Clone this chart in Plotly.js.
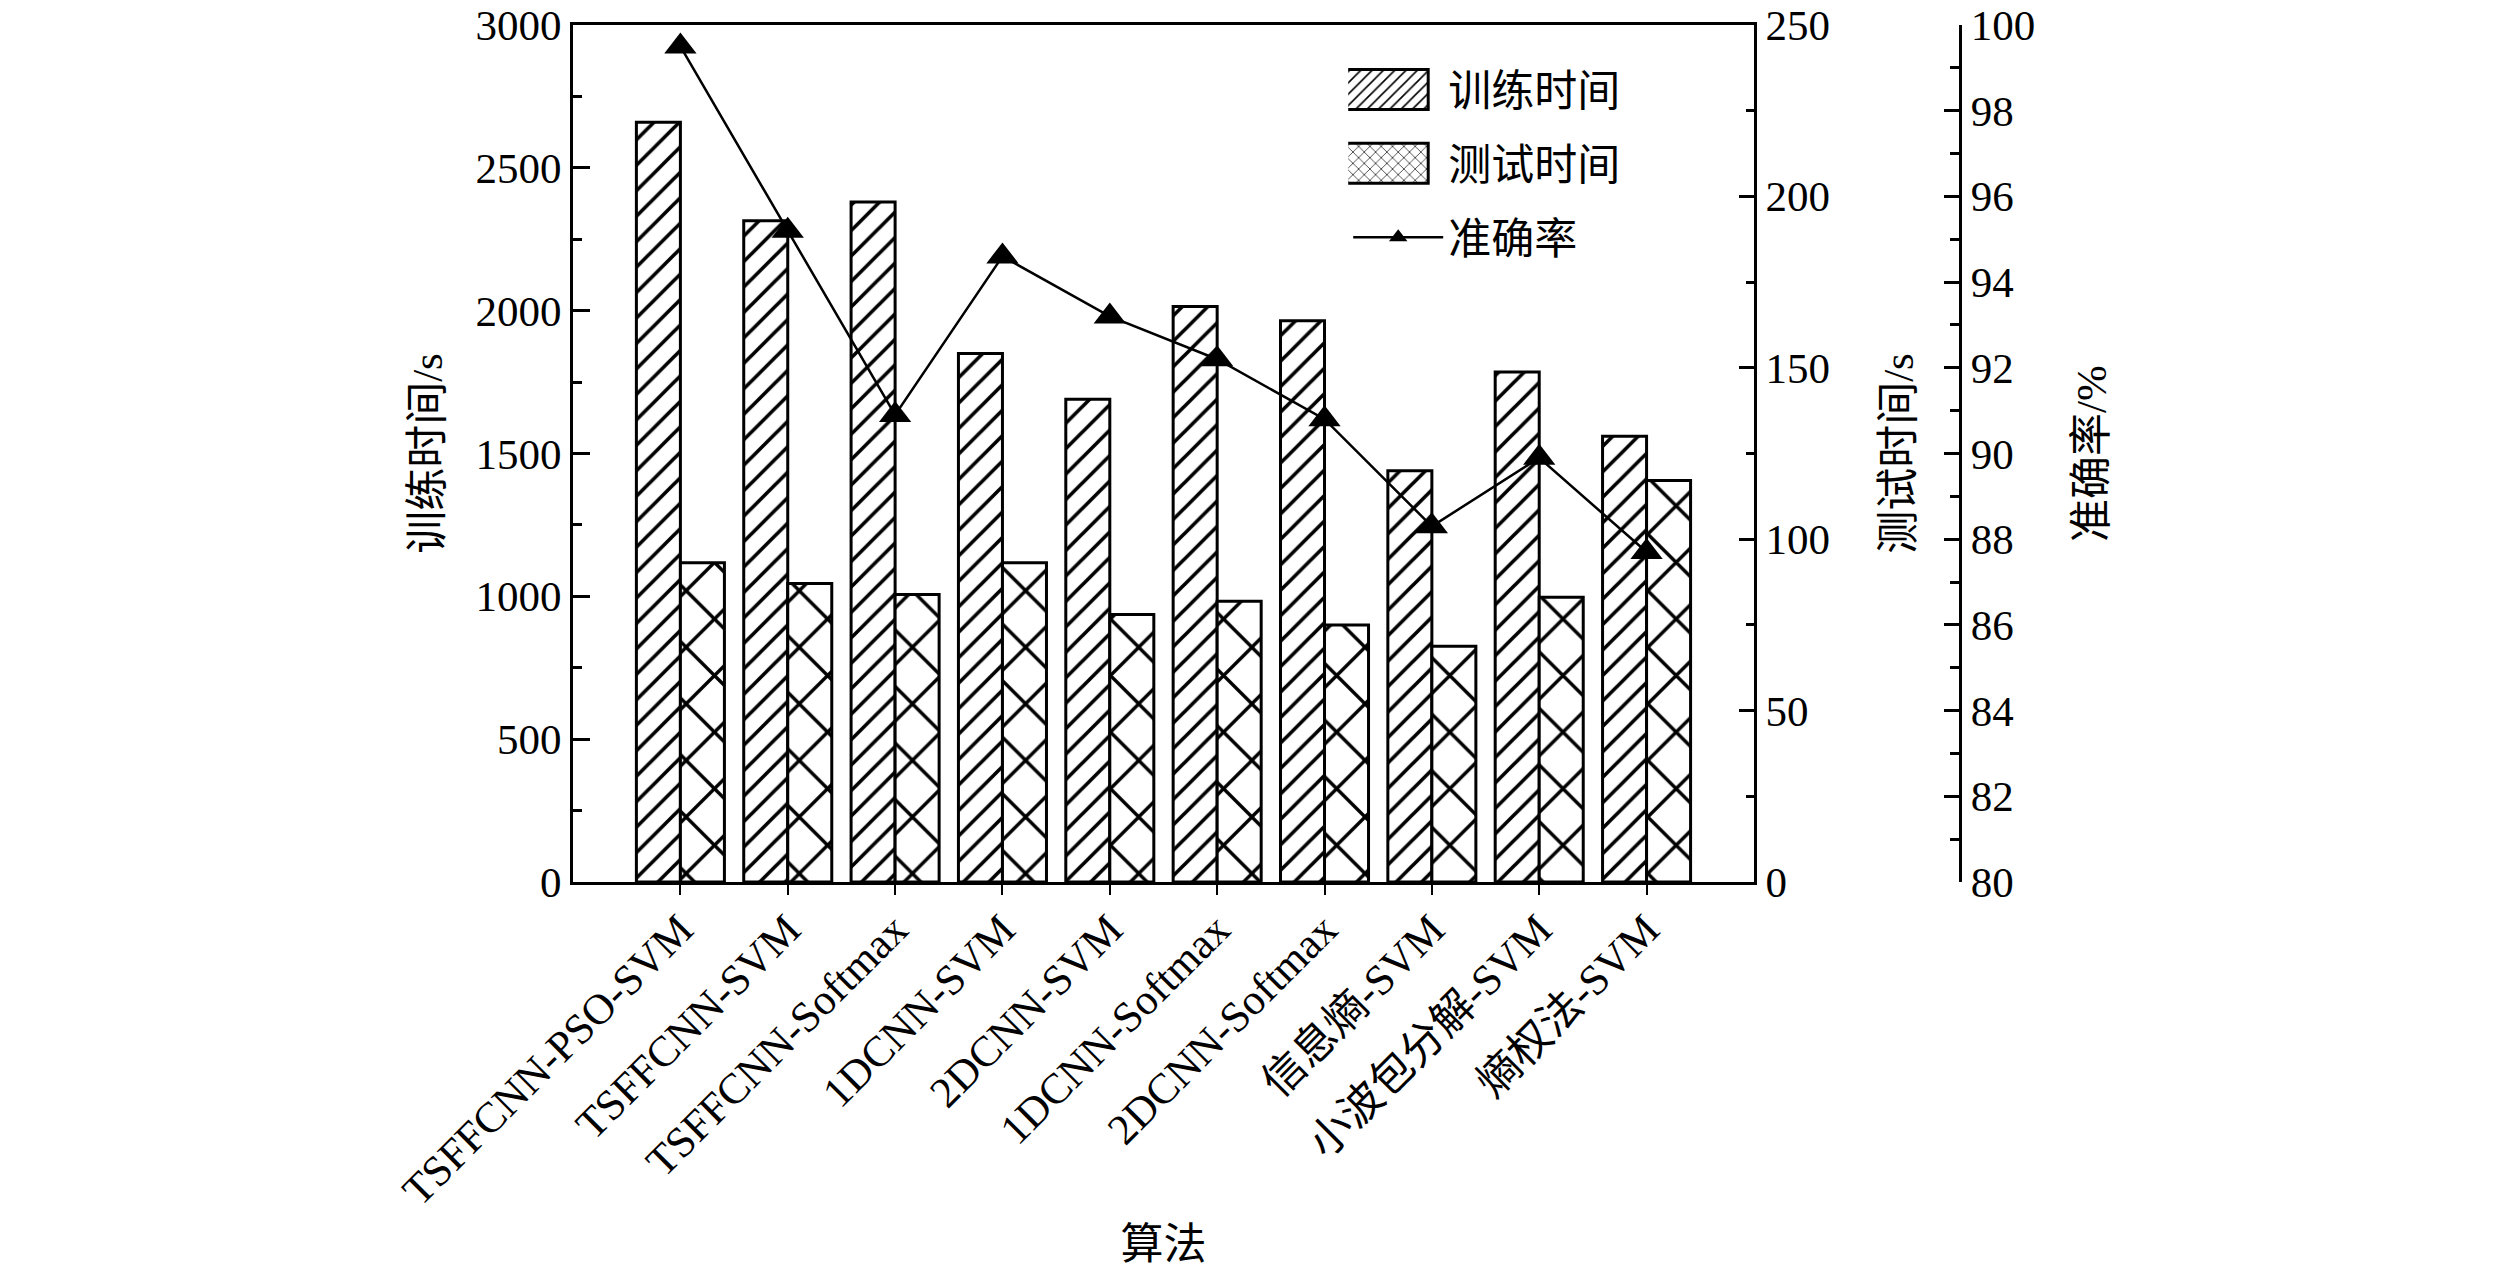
<!DOCTYPE html>
<html>
<head>
<meta charset="utf-8">
<script src="https://cdn.plot.ly/plotly-3.0.1.min.js"></script>
<style>
  html, body { margin: 0; padding: 0; background: #fff; }
  #chart { width: 2520px; height: 1273px; }
</style>
</head>
<body>
<div id="chart"></div>
<script>
// categories (algorithms)
var algos = [
  "TSFFCNN-PSO-SVM",
  "TSFFCNN-SVM",
  "TSFFCNN-Softmax",
  "1DCNN-SVM",
  "2DCNN-SVM",
  "1DCNN-Softmax",
  "2DCNN-Softmax",
  "信息熵-SVM",
  "小波包分解-SVM",
  "熵权法-SVM",
];

// training time, s
var trainTime = [2660, 2315, 2380, 1850, 1690, 2015, 1965, 1440, 1785, 1560];

// testing time, s
var testTime = [93.1, 87.1, 83.9, 93.1, 78.0, 81.9, 75.0, 68.8, 83.1, 117.1];

// accuracy, %
var accuracy = [99.5, 95.2, 90.9, 94.6, 93.2, 92.2, 90.8, 88.3, 89.9, 87.7];

var FONT = "'Liberation Serif', 'Times New Roman', 'Noto Sans CJK SC', serif";
var FS = 43;

// make the legend boxes as big as in the original figure
var bigLegendBoxes = function (gd) {
  gd.querySelectorAll(".legendpoints path").forEach(function (p) {
    var d = p.getAttribute("d") || "";
    if (d.replace(/\s/g, "") === "M6,6H-6V-6H6Z") {
      p.setAttribute("d", "M30,20H-56V-20H30Z");
    }
  });
};

var cb_chart = function () {
  var trTrain = {
    x: algos,
    y: trainTime,
    name: "训练时间",
    type: "bar",
    yaxis: "y",
    width: 0.41,
    offset: -0.41,
    legendgroup: "a",
    marker: {
      color: "white",
      line: { color: "black", width: 3 },
      pattern: { shape: "/", fgcolor: "black", bgcolor: "white", fillmode: "replace", size: 18, solidity: 0.2 },
    },
  };

  var trTest = {
    x: algos,
    y: testTime,
    name: "测试时间",
    type: "bar",
    yaxis: "y2",
    width: 0.41,
    offset: 0,
    legendgroup: "b",
    marker: {
      color: "white",
      line: { color: "black", width: 3 },
      pattern: { shape: "x", fgcolor: "black", bgcolor: "white", fillmode: "replace", size: 40, solidity: 0.16 },
    },
  };

  var trAcc = {
    x: algos,
    y: accuracy,
    name: "准确率",
    type: "scatter",
    mode: "lines+markers",
    yaxis: "y3",
    legendgroup: "c",
    line: { color: "black", width: 2.5 },
    marker: { symbol: "triangle-up", size: 28, color: "black" },
  };

  var data = [trTrain, trTest, trAcc];

  var axisFont = { family: FONT, size: FS, color: "black" };

  var layout = {
    width: 2520,
    height: 1273,
    margin: { l: 0, r: 0, t: 25, b: 391, pad: 0 },
    paper_bgcolor: "white",
    plot_bgcolor: "white",
    font: axisFont,
    showlegend: true,
    legend: {
      x: 0.535,
      y: 0.965,
      xanchor: "left",
      yanchor: "top",
      bgcolor: "rgba(0,0,0,0)",
      font: { family: FONT, size: FS, color: "black" },
      itemwidth: 90,
      tracegroupgap: 15,
    },
    xaxis: {
      domain: [0.2274, 0.696],
      type: "category",
      range: [-1, 10],
      showline: true,
      linewidth: 3,
      linecolor: "black",
      mirror: true,
      ticks: "outside",
      ticklen: 10,
      tickwidth: 2,
      tickcolor: "black",
      tickangle: -45,
      ticklabelstandoff: -8,
      tickfont: axisFont,
      showgrid: false,
      zeroline: false,
      title: { text: "算法", font: axisFont, standoff: 16 },
    },
    yaxis: {
      range: [0, 3000],
      dtick: 500,
      showline: true,
      linewidth: 3,
      linecolor: "black",
      ticks: "inside",
      ticklen: 17,
      tickwidth: 3,
      tickcolor: "black",
      minor: { ticks: "inside", dtick: 250, ticklen: 9, tickwidth: 3, tickcolor: "black" },
      tickfont: axisFont,
      showgrid: false,
      zeroline: false,
      title: { text: "训练时间/s", font: axisFont, standoff: 20 },
    },
    yaxis2: {
      range: [0, 250],
      dtick: 50,
      overlaying: "y",
      side: "right",
      anchor: "x",
      showline: true,
      linewidth: 3,
      linecolor: "black",
      ticks: "inside",
      ticklen: 15,
      tickwidth: 3,
      tickcolor: "black",
      minor: { ticks: "inside", dtick: 25, ticklen: 8, tickwidth: 3, tickcolor: "black" },
      tickfont: axisFont,
      showgrid: false,
      zeroline: false,
      title: { text: "测试时间/s", font: axisFont, standoff: 54 },
    },
    yaxis3: {
      range: [80, 100],
      dtick: 2,
      overlaying: "y",
      side: "right",
      anchor: "free",
      position: 0.7778,
      showline: true,
      linewidth: 3,
      linecolor: "black",
      ticks: "inside",
      ticklen: 15,
      tickwidth: 3,
      tickcolor: "black",
      minor: { ticks: "inside", dtick: 1, ticklen: 9, tickwidth: 3, tickcolor: "black" },
      tickfont: axisFont,
      showgrid: false,
      zeroline: false,
      title: { text: "准确率/%", font: axisFont, standoff: 41 },
    },
  };

  var config = { responsive: false, displayModeBar: false };

  var gd = document.getElementById("chart");
  Plotly.newPlot(gd, data, layout, config);
  bigLegendBoxes(gd);
  gd.on("plotly_afterplot", function () {
    bigLegendBoxes(gd);
  });
  setTimeout(function () { bigLegendBoxes(gd); }, 300);
  setTimeout(function () { bigLegendBoxes(gd); }, 1000);
};

cb_chart();
</script>
</body>
</html>
